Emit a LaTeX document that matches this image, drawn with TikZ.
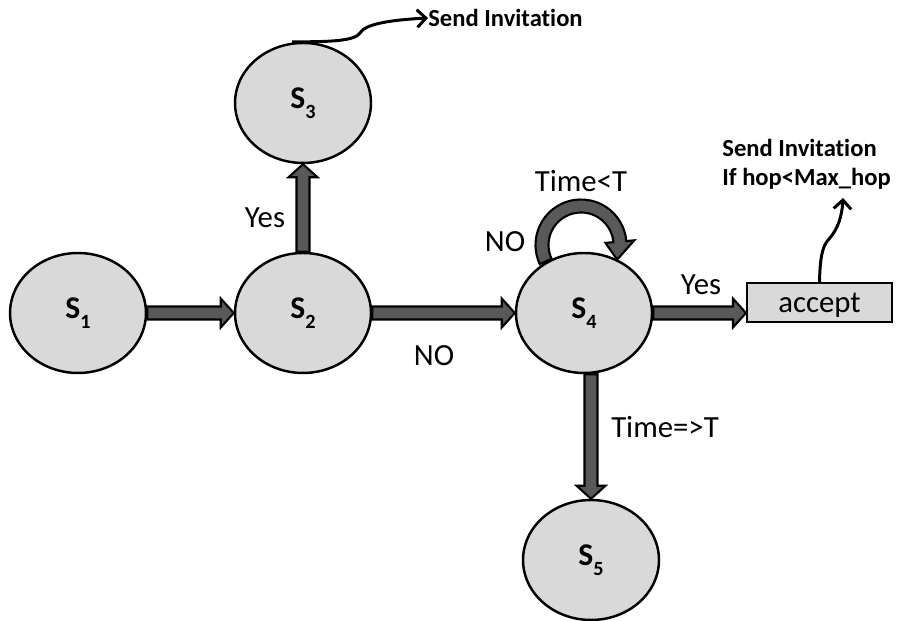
\documentclass[tikz,border=0pt]{standalone}
\usepackage{fontspec}
\setmainfont{Carlito}[Ligatures=NoCommon]
\usetikzlibrary{shapes.geometric,calc,arrows.meta,backgrounds}
\definecolor{stategrey}{HTML}{D9D9D9}
\definecolor{arrowgrey}{HTML}{595959}

% state name with a lowered index
\newcommand\statelabel[1]{S\raisebox{-5.5pt}{\fontsize{11.5}{13}\selectfont #1}}

% thick outlined block arrow from #1 to #2
\newcommand\blockarrow[2]{%
  \coordinate (bh) at ($(#2)!7.4pt!(#1)$);
  \draw[blockarr] ($(#1)!3.7pt!90:(#2)$) -- ($(bh)!3.7pt!90:(#2)$)
    -- ($(bh)!8.2pt!90:(#2)$) -- (#2) -- ($(bh)!8.2pt!-90:(#2)$)
    -- ($(bh)!3.7pt!-90:(#2)$) -- ($(#1)!3.7pt!-90:(#2)$) -- cycle;}

\begin{document}
\begin{tikzpicture}[x=0.02cm,y=0.02cm,
  state/.style={ellipse, draw=black, line width=1.4pt, fill=stategrey,
    minimum width=2.72cm, minimum height=2.4cm, inner sep=0pt,
    font=\bfseries\fontsize{18}{21}\selectfont},
  box/.style={rectangle, draw=black, line width=1.2pt, fill=stategrey,
    minimum width=2.9cm, minimum height=0.78cm, inner sep=0pt, text depth=0pt,
    font=\fontsize{17.5}{21}\selectfont},
  lbl/.style={font=\fontsize{17.5}{21}\selectfont, inner sep=0pt, anchor=base},
  note/.style={font=\bfseries\fontsize{14}{16.5}\selectfont, inner sep=0pt},
  blockarr/.style={draw=black, fill=arrowgrey, line width=1.2pt, line join=miter},
  thinarr/.style={line width=1.7pt, -{Straight Barb[length=5pt,width=10pt]}}]

\useasboundingbox (0,0) rectangle (898,621);

% states
\node[state] (s1) at (78,308) {\statelabel{1}};
\node[state] (s2) at (303,308) {\statelabel{2}};
\node[state] (s3) at (303,518) {\statelabel{3}};
\node[state] (s4) at (584,308) {\statelabel{4}};
\node[state] (s5) at (591,61) {\statelabel{5}};
\node[box] (acc) at (819.5,318.5) {accept};

% notes
\node[note, anchor=west] (inv1) at (428,603) {Send Invitation};
\node[note, anchor=north west, align=left] (inv2) at (722,482)
  {Send Invitation\\If hop<Max\_hop};
\coordinate (invtip) at (843,423);

% block arrows
\blockarrow{s1.east}{s2.west}
\blockarrow{s2.east}{s4.west}
\blockarrow{s2.north}{s3.south}
\coordinate (accin) at (acc.west |- s4.east);
\blockarrow{s4.east}{accin}
\coordinate (s4out) at (s4.south -| s5.north);
\blockarrow{s4out}{s5.north}

% self loop on s4
\coordinate (loopc) at ($(s4.center)+(-3,68)$);
\begin{scope}[on background layer]
\draw[blockarr] ([shift={(loopc)}]205:45.5) arc[start angle=205, end angle=5, radius=45.5]
  -- ([shift={(loopc)}]5:53.5) -- ([shift={(loopc)}]-22:39)
  -- ([shift={(loopc)}]5:24.5) -- ([shift={(loopc)}]5:32.5)
  arc[start angle=5, end angle=205, radius=32.5] -- cycle;
\end{scope}

% invitation curves
\draw[thinarr] ($(s3.north)+(-11,0)$) .. controls (330,579) and (355,580) .. (360,588)
  .. controls (365,597) and (390,601) .. (inv1.west);
\draw[thinarr] (acc.north) .. controls (820,362) and (822,375) .. (829,382)
  .. controls (838,392) and (842,405) .. (invtip);

% transition labels
\node[lbl] (lyes1) at (265,393) {Yes};
\node[lbl] (lno1) at (434,255) {NO};
\node[lbl] (ltime1) at (581,429) {Time<T};
\node[lbl] (lno2) at (505,369) {NO};
\node[lbl] (lyes2) at (701,326) {Yes};
\node[lbl] (ltime2) at (665,183) {Time=>T};
\end{tikzpicture}
\end{document}
